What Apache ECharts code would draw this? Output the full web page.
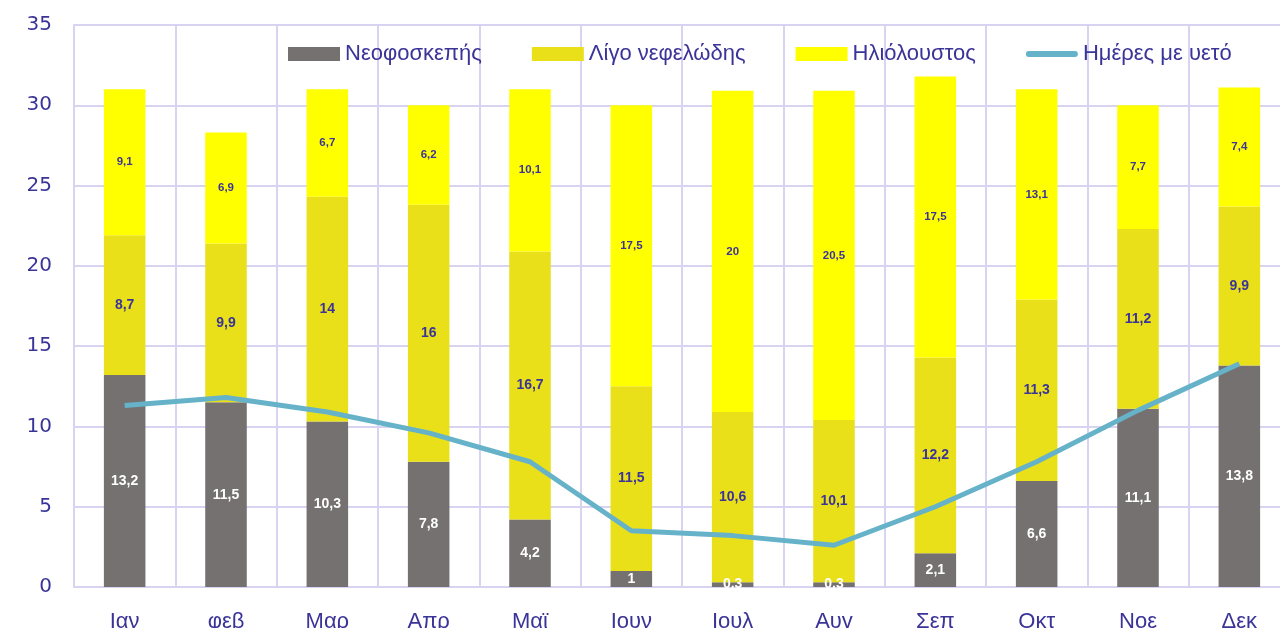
<!DOCTYPE html>
<html><head><meta charset="utf-8">
<script src="https://cdn.jsdelivr.net/npm/echarts@6/dist/echarts.min.js"></script>
<style>html,body{margin:0;padding:0;background:#fff}#c{width:1280px;height:628px}</style>
</head><body><div id="c"></div>
<script>
const months = ['Ιαν','φεβ','Μαρ','Απρ','Μαϊ','Ιουν','Ιουλ','Αυγ','Σεπ','Οκτ','Νοε','Δεκ'];
const overcast = [13.2,11.5,10.3,7.8,4.2,1,0.3,0.3,2.1,6.6,11.1,13.8];
const partly = [8.7,9.9,14,16,16.7,11.5,10.6,10.1,12.2,11.3,11.2,9.9];
const sunny = [9.1,6.9,6.7,6.2,10.1,17.5,20,20.5,17.5,13.1,7.7,7.4];
const rainDays = [11.3,11.8,10.9,9.6,7.8,3.5,3.2,2.6,5.0,7.8,11.0,13.9];
const yTicks = [0,5,10,15,20,25,30,35];

const navy = '#3b3498';
const grid = '#d8d3f0';
const fmt = p => String(p.value).replace('.', ',');
const chart = echarts.init(document.getElementById('c'));
chart.setOption({
  animation:false,
  backgroundColor:'#fff',
  grid:{left:74,right:-10,top:25,bottom:41,containLabel:false,outerBoundsMode:'none'},
  legend:{
    left:283, top:38, itemWidth:52, itemHeight:14, itemGap:50,
    textStyle:{fontFamily:'Liberation Sans', fontSize:22, color:navy},
    data:[
      {name:'Νεοφοσκεπής', icon:'rect'},
      {name:'Λίγο νεφελώδης', icon:'rect'},
      {name:'Ηλιόλουστος', icon:'rect'},
      {name:'Ημέρες με υετό', icon:'path://M0,0L0.01,0L0.01,0.01L0,0.01Z M3,4L49,4A3,3,0,0,1,49,10L3,10A3,3,0,0,1,3,4Z M51.99,13.99L52,13.99L52,14L51.99,14Z',
       itemStyle:{color:'#65b2c9'}}
    ]
  },
  xAxis:{
    type:'category', data:months,
    axisLine:{lineStyle:{color:grid,width:2}},
    axisTick:{show:false},
    splitLine:{show:true, interval:0, lineStyle:{color:grid,width:2}},
    axisLabel:{margin:24, interval:0, fontFamily:'Liberation Sans', fontSize:22, color:navy}
  },
  yAxis:{
    type:'value', min:0, max:35, interval:5,
    axisLine:{show:true, lineStyle:{color:grid,width:2}},
    axisTick:{show:false},
    splitLine:{lineStyle:{color:grid,width:2}},
    axisLabel:{margin:22, fontFamily:'DejaVu Sans', fontSize:20, color:navy,
      formatter: v => yTicks.includes(v) ? String(v) : ''}
  },
  series:[
    {name:'Νεοφοσκεπής', type:'bar', stack:'s', data:overcast, barWidth:'41%',
     itemStyle:{color:'#767171'},
     label:{show:true, position:'inside', formatter:fmt, color:'#fff', fontWeight:'bold', fontSize:14, fontFamily:'Liberation Sans'}},
    {name:'Λίγο νεφελώδης', type:'bar', stack:'s', data:partly, barWidth:'41%',
     itemStyle:{color:'#e9e01a'},
     label:{show:true, position:'inside', formatter:fmt, color:navy, fontWeight:'bold', fontSize:14, fontFamily:'Liberation Sans'}},
    {name:'Ηλιόλουστος', type:'bar', stack:'s', data:sunny, barWidth:'41%',
     itemStyle:{color:'#ffff00'},
     label:{show:true, position:'inside', formatter:fmt, color:navy, fontWeight:'bold', fontSize:11.5, fontFamily:'Liberation Sans'}},
    {name:'Ημέρες με υετό', type:'line', data:rainDays, symbol:'none', z:5,
     lineStyle:{color:'#65b2c9', width:5}, itemStyle:{color:'#65b2c9'}}
  ]
});
</script></body></html>
